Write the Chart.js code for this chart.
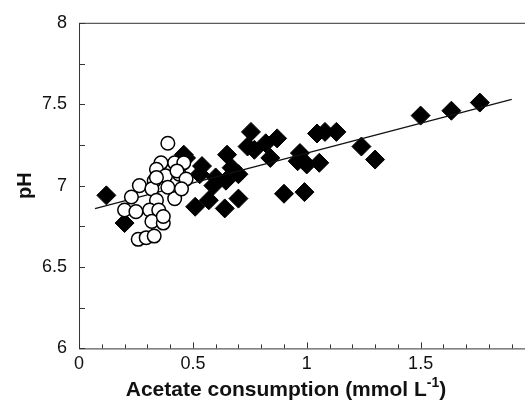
<!DOCTYPE html>
<html>
<head>
<meta charset="utf-8">
<script src="https://cdn.jsdelivr.net/npm/chart.js@4/dist/chart.umd.min.js"></script>
<style>
  html, body { margin: 0; padding: 0; background: #fff; overflow: hidden; }
  #wrap { width: 525px; height: 408px; overflow: hidden; }
</style>
</head>
<body>
<div id="wrap"><canvas id="phChart" width="545" height="408"></canvas></div>
<script>
// open circles
const circleX = [0.39, 0.36, 0.42, 0.46, 0.34, 0.38, 0.44, 0.43, 0.47, 0.42, 0.33, 0.39, 0.265, 0.32,
    0.23, 0.34, 0.20, 0.25, 0.31, 0.35, 0.32, 0.37, 0.37, 0.26, 0.295, 0.33, 0.34, 0.45];
const circleY = [7.26, 7.14, 7.14, 7.14, 7.10, 7.06, 7.07, 7.09, 7.04, 6.92, 7.03, 6.99, 7.00, 6.98,
    6.93, 6.91, 6.85, 6.84, 6.85, 6.85, 6.78, 6.77, 6.81, 6.67, 6.68, 6.69, 7.05, 6.98];

// filled diamonds
const diamondX = [0.12, 0.20, 0.46, 0.47, 0.51, 0.53, 0.54, 0.57, 0.59, 0.60, 0.64, 0.645, 0.65, 0.67,
    0.70, 0.70, 0.74, 0.755, 0.77, 0.82, 0.84, 0.87, 0.90, 0.97, 0.96, 0.99, 1.00, 1.045, 1.055,
    1.08, 1.13, 1.24, 1.30, 1.50, 1.635, 1.76];
const diamondY = [6.94, 6.77, 7.19, 7.17, 6.87, 7.07, 7.12, 6.91, 7.00, 7.05, 6.86, 7.03, 7.19, 7.11,
    6.92, 7.07, 7.24, 7.33, 7.22, 7.26, 7.17, 7.29, 6.95, 7.20, 7.15, 6.96, 7.13, 7.32, 7.14,
    7.33, 7.33, 7.24, 7.16, 7.43, 7.46, 7.51];

// regression line end points
const fitX = [0.07, 1.9];
const fitY = [6.858, 7.53];

const xTicks = [0, 0.5, 1, 1.5, 2];
const yTicks = [6, 6.5, 7, 7.5, 8];

const toPoints = (xs, ys) => xs.map((x, i) => ({ x: x, y: ys[i] }));

Chart.defaults.font.family = '"Liberation Sans", Arial, sans-serif';
Chart.defaults.color = '#111';

const framePlugin = {
    id: 'frame',
    beforeDatasetsDraw(chart) {
        const ctx = chart.ctx;
        const a = chart.chartArea;
        const xs = chart.scales.x;
        const ys = chart.scales.y;
        ctx.save();
        ctx.strokeStyle = '#333';
        ctx.lineWidth = 1;
        ctx.strokeRect(a.left + 0.5, a.top + 0.5, a.right - a.left, a.bottom - a.top);
        ctx.beginPath();
        for (let i = 0; i <= 20; i++) {
            const px = Math.round(xs.getPixelForValue(i / 10)) + 0.5;
            const len = i % 5 === 0 ? 6 : 4;
            ctx.moveTo(px, a.bottom);
            ctx.lineTo(px, a.bottom - len);
        }
        for (let i = 0; i <= 8; i++) {
            const py = Math.round(ys.getPixelForValue(6 + i * 0.25)) + 0.5;
            ctx.moveTo(a.left, py);
            ctx.lineTo(a.left + 6, py);
        }
        ctx.stroke();
        ctx.restore();
    },
    afterDraw(chart) {
        // x title with superscript
        const ctx = chart.ctx;
        const base = 'Acetate consumption (mmol L';
        const sup = '-1';
        const end = ')';
        ctx.save();
        ctx.fillStyle = '#111';
        ctx.textBaseline = 'alphabetic';
        ctx.font = 'bold 21px "Liberation Sans", Arial, sans-serif';
        const w1 = ctx.measureText(base).width;
        const w3 = ctx.measureText(end).width;
        ctx.font = 'bold 14px "Liberation Sans", Arial, sans-serif';
        const w2 = ctx.measureText(sup).width;
        let x = 286 - (w1 + w2 + w3) / 2;
        const y = 396;
        ctx.font = 'bold 21px "Liberation Sans", Arial, sans-serif';
        ctx.fillText(base, x, y);
        x += w1;
        ctx.font = 'bold 14px "Liberation Sans", Arial, sans-serif';
        ctx.fillText(sup, x, y - 9);
        x += w2;
        ctx.font = 'bold 21px "Liberation Sans", Arial, sans-serif';
        ctx.fillText(end, x, y);
        ctx.restore();
    }
};

new Chart(document.getElementById('phChart'), {
    type: 'scatter',
    data: {
        datasets: [
            {
                label: 'circles',
                data: toPoints(circleX, circleY),
                pointStyle: 'circle',
                pointRadius: 6.8,
                pointBorderWidth: 1.5,
                backgroundColor: '#fff',
                borderColor: '#000',
            },
            {
                label: 'fit',
                type: 'line',
                data: toPoints(fitX, fitY),
                borderColor: '#111',
                borderWidth: 1.3,
                pointRadius: 0,
                fill: false,
            },
            {
                label: 'diamonds',
                data: toPoints(diamondX, diamondY),
                pointStyle: 'rectRot',
                pointRadius: 9.5,
                pointBorderWidth: 1,
                backgroundColor: '#000',
                borderColor: '#000',
            },
        ],
    },
    options: {
        responsive: false,
        animation: false,
        layout: {
            padding: { left: 13, right: 1, top: 12, bottom: 28 },
        },
        plugins: {
            legend: { display: false },
            tooltip: { enabled: false },
        },
        scales: {
            x: {
                type: 'linear',
                min: 0,
                max: 2,
                afterBuildTicks: (s) => { s.ticks = xTicks.map(v => ({ value: v })); },
                ticks: { font: { size: 18 }, padding: 5, maxRotation: 0, callback: (v) => String(v) },
                grid: { display: false, drawTicks: false },
                border: { display: false },
            },
            y: {
                min: 6,
                max: 8,
                afterBuildTicks: (s) => { s.ticks = yTicks.map(v => ({ value: v })); },
                ticks: { font: { size: 18 }, padding: 12, callback: (v) => String(v) },
                grid: { display: false, drawTicks: false },
                border: { display: false },
                title: {
                    display: true,
                    text: 'pH',
                    font: { size: 20, weight: 'bold' },
                    padding: { top: 0, bottom: -7 },
                },
            },
        },
    },
    plugins: [framePlugin],
});
</script>
</body>
</html>
